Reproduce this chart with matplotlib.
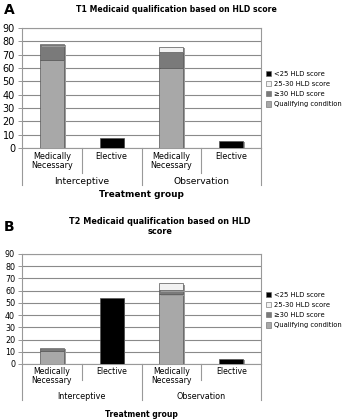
import numpy as np
import matplotlib
matplotlib.use("Agg")
import matplotlib.pyplot as plt
import matplotlib.patheffects as pe
from matplotlib.patches import Patch

sub_labels = ["Medically\nNecessary", "Elective", "Medically\nNecessary", "Elective"]
group_labels = ["Interceptive", "Observation"]
series_names = ["<25 HLD score", "25-30 HLD score", "\u226530 HLD score", "Qualifying condition"]
series_colors = ["#000000", "#f2f2f2", "#7a7a7a", "#a8a8a8"]

# T1 values (per bar: Int MN, Int Elective, Obs MN, Obs Elective)
t1_qualifying = [66, 0, 60, 0]
t1_ge30 = [11, 0, 12, 0]
t1_25_30 = [1, 0, 4, 0]
t1_lt25 = [0, 7.5, 0, 5.5]

# T2 values
t2_qualifying = [11, 0, 57, 0]
t2_ge30 = [1.3, 0, 3.4, 0]
t2_25_30 = [0.7, 0, 5.6, 0]
t2_lt25 = [0, 54, 0, 4]

yticks = np.arange(0, 100, 10)


def draw_panel(ax, qual, ge30, mid, lt25, fs):
    x = np.arange(4) + 0.5
    shadow = [pe.SimplePatchShadow(offset=(1.2, -1.0), shadow_rgbFace="#9a9a9a", alpha=1.0), pe.Normal()]
    bottom = np.zeros(4)
    # stack from bottom: qualifying, >=30, 25-30, <25
    for vals, col in [(qual, series_colors[3]), (ge30, series_colors[2]),
                      (mid, series_colors[1]), (lt25, series_colors[0])]:
        vals = np.array(vals, dtype=float)
        bars = ax.bar(x, vals, 0.4, bottom=bottom, color=col, edgecolor="#555555",
                      linewidth=0.5, zorder=3)
        for b, v in zip(bars, vals):
            if v > 0:
                b.set_path_effects(shadow)
            else:
                b.set_visible(False)
        bottom += vals

    ax.set_xlim(0, 4)
    ax.set_ylim(0, 90)
    ax.set_yticks(yticks)
    ax.tick_params(axis="y", labelsize=fs["ytick"], length=3, width=0.6, color="#888888", pad=2)
    ax.yaxis.grid(True, color="#8a8a8a", linewidth=0.8, zorder=0)
    ax.set_axisbelow(True)
    for s in ax.spines.values():
        s.set_color("#999999")
        s.set_linewidth(0.8)

    ax.set_xticks(x)
    ax.set_xticklabels(sub_labels, fontsize=fs["sub"], linespacing=1.0)
    ax.tick_params(axis="x", length=0, pad=fs["subpad"])

    # separators under the axis
    trans = ax.get_xaxis_transform()
    for xs, depth in [(0, fs["long"]), (1, fs["short"]), (2, fs["long"]),
                      (3, fs["short"]), (4, fs["long"])]:
        ax.plot([xs, xs], [0, depth], transform=trans, color="#999999",
                linewidth=0.8, clip_on=False)
    for i, g in enumerate(group_labels):
        ax.text(2 * i + 1, fs["group_y"], g, transform=trans, ha="center",
                va="center", fontsize=fs["group"])
    ax.text(2, fs["xlab_y"], "Treatment group", transform=trans, ha="center",
            va="center", fontsize=fs["xlab"], fontweight="bold")


fig = plt.figure(figsize=(3.47, 4.19), dpi=100)

axA = fig.add_axes([0.0634, 0.6468, 0.689, 0.2864])
draw_panel(axA, t1_qualifying, t1_ge30, t1_25_30, t1_lt25,
           {"ytick": 7, "sub": 5.8, "subpad": 3, "long": -0.31, "short": -0.21,
            "group": 6.6, "group_y": -0.28, "xlab": 6.4, "xlab_y": -0.385})
axB = fig.add_axes([0.0634, 0.1313, 0.689, 0.2625])
draw_panel(axB, t2_qualifying, t2_ge30, t2_25_30, t2_lt25,
           {"ytick": 5.8, "sub": 5.6, "subpad": 2, "long": -0.33, "short": -0.145,
            "group": 5.8, "group_y": -0.30, "xlab": 5.5, "xlab_y": -0.455})

fig.text(4 / 347, 1 - 10 / 419, "A", fontsize=10, fontweight="bold", va="center")
fig.text(176 / 347, 1 - 9 / 419, "T1 Medicaid qualification based on HLD score",
         fontsize=5.6, fontweight="bold", ha="center", va="center")
fig.text(4 / 347, 1 - 227 / 419, "B", fontsize=10, fontweight="bold", va="center")
fig.text(160 / 347, 1 - 226.5 / 419, "T2 Medicaid qualification based on HLD\nscore",
         fontsize=5.9, fontweight="bold", ha="center", va="center", linespacing=1.25)

handles = [Patch(facecolor=c, edgecolor="#666666", linewidth=0.4) for c in series_colors]
for top_px in [68, 289]:
    fig.legend(handles, series_names, loc="upper left",
               bbox_to_anchor=(263 / 347, 1 - top_px / 419), frameon=False,
               fontsize=4.9, handlelength=0.8, handleheight=0.8, handletextpad=0.4,
               labelspacing=0.62, borderaxespad=0)

plt.savefig("out.png", dpi=100)
